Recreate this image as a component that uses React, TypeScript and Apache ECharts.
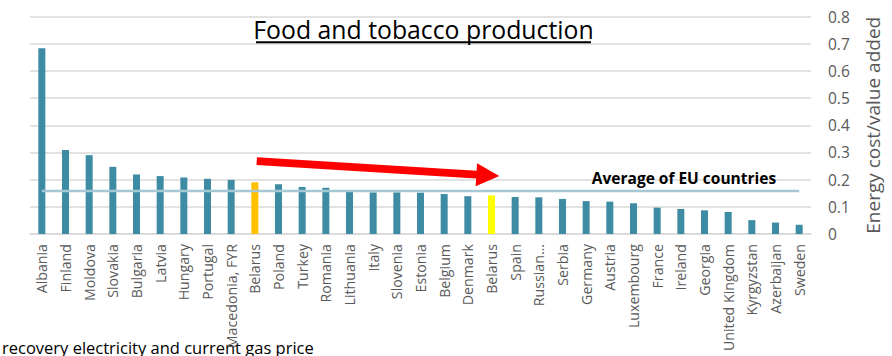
import React, { useEffect, useRef } from "react";
import * as echarts from "echarts";

const categories = [
  "Albania", "Finland", "Moldova", "Slovakia", "Bulgaria", "Latvia", "Hungary", "Portugal",
  "Macedonia, FYR", "Belarus", "Poland", "Turkey", "Romania", "Lithuania", "Italy", "Slovenia",
  "Estonia", "Belgium", "Denmark", "Belarus", "Spain", "Russian Federation", "Serbia", "Germany",
  "Austria", "Luxembourg", "France", "Ireland", "Georgia", "United Kingdom", "Kyrgyzstan",
  "Azerbaijan", "Sweden",
];
const values = [
  0.683, 0.309, 0.29, 0.247, 0.219, 0.213, 0.208, 0.203,
  0.199, 0.19, 0.183, 0.173, 0.17, 0.156, 0.153, 0.153,
  0.152, 0.147, 0.139, 0.142, 0.136, 0.135, 0.129, 0.121,
  0.119, 0.113, 0.097, 0.092, 0.087, 0.081, 0.051,
  0.042, 0.034,
];
const highlightColors: Record<number, string> = { 9: "#ffc000", 19: "#ffff00" };
const euAverage = 0.158;
const yTicks = [0, 0.1, 0.2, 0.3, 0.4, 0.5, 0.6, 0.7, 0.8];
const arrowStart = [9.08, 0.268];
const arrowEnd = [19.33, 0.213];

const TITLE = "Food and tobacco production";
const AVG_LABEL = "Average of EU countries";
const Y_NAME = "Energy cost/value added";
const FOOTER = "recovery electricity and current gas price";

export default function App() {
  const ref = useRef<HTMLDivElement>(null);
  useEffect(() => {
    if (!ref.current) return;
    const chart = echarts.init(ref.current, undefined, { renderer: "svg" });
    const font = "'Open Sans', sans-serif";
    chart.setOption({
      animation: false,
      backgroundColor: "#ffffff",
      grid: { left: 30, right: 81, top: 16.5, bottom: 122, containLabel: false, outerBoundsMode: "none" },
      xAxis: {
        type: "category",
        data: categories,
        axisLine: { show: true, lineStyle: { color: "#d9d9d9", width: 1.5 } },
        axisTick: { show: false },
        axisLabel: {
          rotate: 90,
          interval: 0,
          margin: 10,
          color: "#595959",
          fontFamily: font,
          fontSize: 14.2,
          formatter: (v: string) => (v === "Russian Federation" ? "Russian…" : v),
        },
      },
      yAxis: {
        type: "value",
        position: "right",
        min: 0,
        max: 0.8,
        interval: 0.1,
        name: Y_NAME,
        nameLocation: "middle",
        nameRotate: 90,
        nameGap: 52,
        nameTextStyle: { color: "#595959", fontFamily: font, fontSize: 19 },
        axisLine: { show: false },
        axisTick: { show: false },
        splitLine: { lineStyle: { color: "#d9d9d9", width: 1.5 } },
        axisLabel: {
          color: "#595959",
          fontFamily: font,
          fontSize: 15.5,
          margin: 17,
          align: "left",
          formatter: (v: number) => {
            const t = yTicks.find((x) => Math.abs(x - v) < 1e-9);
            return t === 0 ? "0" : String(Math.round(v * 10) / 10);
          },
        },
      },
      series: [
        {
          type: "bar",
          barWidth: 7,
          data: values.map((v, i) => ({
            value: v,
            itemStyle: { color: highlightColors[i] || "#3e8ca3" },
          })),
          z: 2,
        },
        {
          type: "line",
          data: categories.map(() => euAverage),
          symbol: "none",
          lineStyle: { color: "#a5c8d4", width: 2.5 },
          z: 3,
        },
      ],
    });

    const p0 = chart.convertToPixel({ xAxisIndex: 0, yAxisIndex: 0 }, [0, 0]) as number[];
    const p1 = chart.convertToPixel({ xAxisIndex: 0, yAxisIndex: 0 }, [1, 0]) as number[];
    const step = p1[0] - p0[0];
    const ya = chart.convertToPixel({ yAxisIndex: 0 }, arrowStart[1]) as number;
    const yb = chart.convertToPixel({ yAxisIndex: 0 }, arrowEnd[1]) as number;
    const xa = p0[0] + arrowStart[0] * step;
    const xb = p0[0] + arrowEnd[0] * step;
    const dx = xb - xa, dy = yb - ya;
    const len = Math.sqrt(dx * dx + dy * dy);
    const ux = dx / len, uy = dy / len;
    const nx = -uy, ny = ux;
    const hw = 3.9, hh = 11.5, hl = 23;
    const bx = xb - ux * hl, by = yb - uy * hl;
    const pts = [
      [xa + nx * hw, ya + ny * hw],
      [bx + nx * hw, by + ny * hw],
      [bx + nx * hh, by + ny * hh],
      [xb, yb],
      [bx - nx * hh, by - ny * hh],
      [bx - nx * hw, by - ny * hw],
      [xa - nx * hw, ya - ny * hw],
    ];
    const avgY = chart.convertToPixel({ yAxisIndex: 0 }, euAverage) as number;
    const lastX = p0[0] + (categories.length - 1) * step;

    chart.setOption({
      graphic: [
        {
          type: "text",
          x: 423.5,
          y: 16,
          style: {
            text: TITLE,
            fontFamily: font,
            fontSize: 24.8,
            fill: "#000000",
            align: "center",
            verticalAlign: "top",
          },
        },
        {
          type: "rect",
          shape: { x: 256, y: 41.3, width: 335, height: 2 },
          style: { fill: "#000000" },
        },
        {
          type: "polygon",
          shape: { points: pts },
          style: { fill: "#ff0000" },
          z: 10,
        },
        {
          type: "text",
          x: lastX - 23,
          y: avgY - 5,
          style: {
            text: AVG_LABEL,
            fontFamily: font,
            fontSize: 15.5,
            fontWeight: "bold",
            fill: "#000000",
            align: "right",
            verticalAlign: "bottom",
          },
        },
        {
          type: "text",
          x: 2,
          y: 356,
          style: {
            text: FOOTER,
            fontFamily: font,
            fontSize: 16.5,
            fill: "#000000",
            align: "left",
            verticalAlign: "bottom",
          },
        },
      ],
    });
    return () => chart.dispose();
  }, []);
  return (
    <div
      ref={ref}
      style={{ position: "fixed", left: 0, top: 0, width: 892, height: 356 }}
    />
  );
}
